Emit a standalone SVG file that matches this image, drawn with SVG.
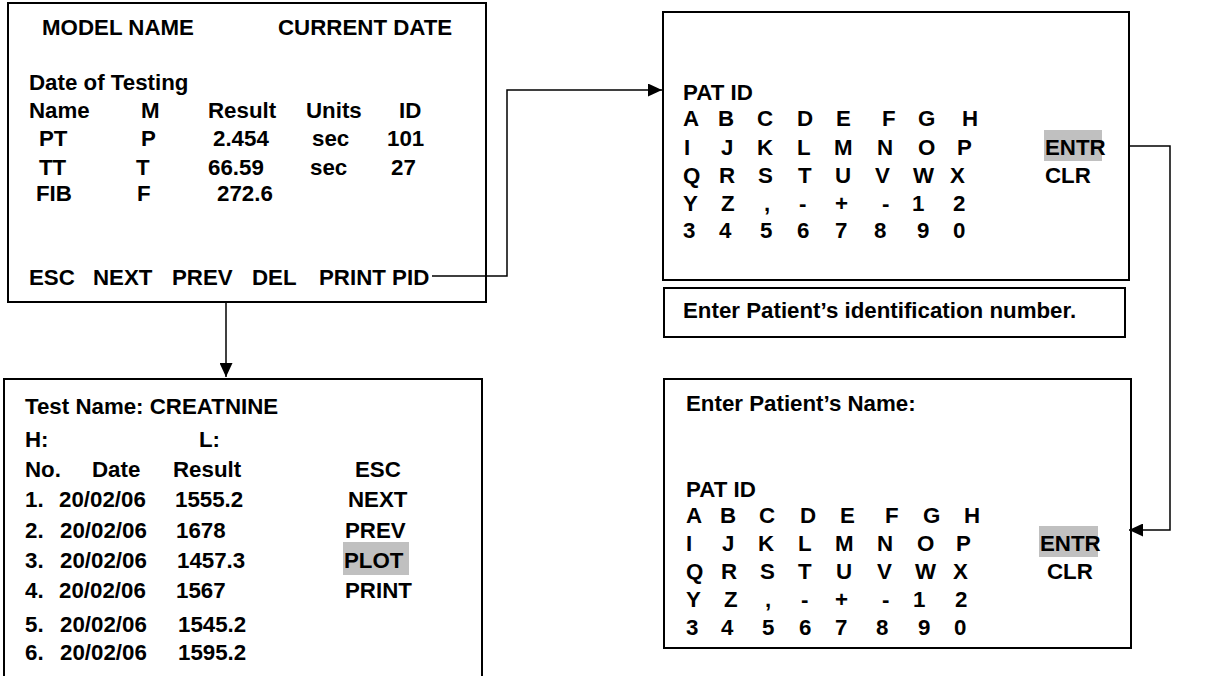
<svg xmlns="http://www.w3.org/2000/svg" width="1225" height="676" viewBox="0 0 1225 676">
<style>
text{font-family:"Liberation Sans",Arial,sans-serif;font-weight:bold;font-size:22.3px;fill:#000}
.box{fill:#fff;stroke:#000;stroke-width:2}
.hl{fill:#c0c0c0}
.conn{fill:none;stroke:#000;stroke-width:1.5}
</style>
<defs>
<marker id="arr" markerWidth="14" markerHeight="13" refX="14" refY="6.5" orient="auto" markerUnits="userSpaceOnUse">
<path d="M0,0 L14,6.5 L0,13 Z" fill="#000"/>
</marker>
</defs>
<rect width="1225" height="676" fill="#fff"/>

<g id="results-screen">
<rect class="box" x="8" y="3" width="478" height="299"/>
<text x="42" y="35">MODEL NAME</text>
<text x="278" y="35">CURRENT DATE</text>
<text x="29" y="90">Date of Testing</text>
<text y="118"><tspan x="29">Name</tspan><tspan x="141">M</tspan><tspan x="208">Result</tspan><tspan x="306">Units</tspan><tspan x="399">ID</tspan></text>
<text y="146"><tspan x="39">PT</tspan><tspan x="141">P</tspan><tspan x="213">2.454</tspan><tspan x="312">sec</tspan><tspan x="387">101</tspan></text>
<text y="175"><tspan x="39">TT</tspan><tspan x="136">T</tspan><tspan x="208">66.59</tspan><tspan x="310">sec</tspan><tspan x="391">27</tspan></text>
<text y="201"><tspan x="36">FIB</tspan><tspan x="137">F</tspan><tspan x="217">272.6</tspan></text>
<text y="285"><tspan x="29">ESC</tspan><tspan x="93">NEXT</tspan><tspan x="172">PREV</tspan><tspan x="252">DEL</tspan><tspan x="319">PRINT PID</tspan></text>
</g>

<g id="pat-id-screen">
<rect class="box" x="663" y="12" width="466" height="268"/>
<rect class="hl" x="1044" y="130" width="58" height="31"/>
<text x="683" y="100">PAT ID</text>
<text y="126"><tspan x="683">A</tspan><tspan x="718">B</tspan><tspan x="757">C</tspan><tspan x="797">D</tspan><tspan x="836">E</tspan><tspan x="882">F</tspan><tspan x="918">G</tspan><tspan x="962">H</tspan></text>
<text y="155"><tspan x="684">I</tspan><tspan x="721">J</tspan><tspan x="757">K</tspan><tspan x="797">L</tspan><tspan x="834">M</tspan><tspan x="877">N</tspan><tspan x="918">O</tspan><tspan x="957">P</tspan><tspan x="1045">ENTR</tspan></text>
<text y="183"><tspan x="683">Q</tspan><tspan x="719">R</tspan><tspan x="758">S</tspan><tspan x="798">T</tspan><tspan x="835">U</tspan><tspan x="875">V</tspan><tspan x="913">W</tspan><tspan x="950">X</tspan><tspan x="1045">CLR</tspan></text>
<text y="211"><tspan x="683">Y</tspan><tspan x="721">Z</tspan><tspan x="764">,</tspan><tspan x="799">-</tspan><tspan x="835">+</tspan><tspan x="882">-</tspan><tspan x="912">1</tspan><tspan x="953">2</tspan></text>
<text y="238"><tspan x="683">3</tspan><tspan x="719">4</tspan><tspan x="760">5</tspan><tspan x="797">6</tspan><tspan x="835">7</tspan><tspan x="874">8</tspan><tspan x="917">9</tspan><tspan x="953">0</tspan></text>
</g>

<g id="pat-id-caption">
<rect class="box" x="664" y="288" width="461" height="49"/>
<text x="683" y="318">Enter Patient’s identification number.</text>
</g>

<g id="test-history-screen">
<rect class="box" x="4" y="379" width="478" height="320"/>
<rect class="hl" x="343" y="542" width="66" height="33"/>
<text x="25" y="414">Test Name: CREATNINE</text>
<text y="447"><tspan x="25">H:</tspan><tspan x="199">L:</tspan></text>
<text y="477"><tspan x="25">No.</tspan><tspan x="92">Date</tspan><tspan x="173">Result</tspan><tspan x="355">ESC</tspan></text>
<text y="507"><tspan x="25">1.</tspan><tspan x="59">20/02/06</tspan><tspan x="175">1555.2</tspan><tspan x="348">NEXT</tspan></text>
<text y="538"><tspan x="25">2.</tspan><tspan x="60">20/02/06</tspan><tspan x="176">1678</tspan><tspan x="345">PREV</tspan></text>
<text y="568"><tspan x="25">3.</tspan><tspan x="60">20/02/06</tspan><tspan x="177">1457.3</tspan><tspan x="344">PLOT</tspan></text>
<text y="598"><tspan x="25">4.</tspan><tspan x="59">20/02/06</tspan><tspan x="176">1567</tspan><tspan x="345">PRINT</tspan></text>
<text y="632"><tspan x="25">5.</tspan><tspan x="60">20/02/06</tspan><tspan x="178">1545.2</tspan></text>
<text y="660"><tspan x="25">6.</tspan><tspan x="60">20/02/06</tspan><tspan x="178">1595.2</tspan></text>
</g>

<g id="patient-name-screen">
<rect class="box" x="664" y="379" width="467" height="269"/>
<rect class="hl" x="1039" y="526" width="59" height="31"/>
<text x="686" y="411">Enter Patient’s Name:</text>
<text x="686" y="497">PAT ID</text>
<text y="523"><tspan x="686">A</tspan><tspan x="720">B</tspan><tspan x="759">C</tspan><tspan x="800">D</tspan><tspan x="840">E</tspan><tspan x="885">F</tspan><tspan x="923">G</tspan><tspan x="964">H</tspan></text>
<text y="551"><tspan x="686">I</tspan><tspan x="722">J</tspan><tspan x="758">K</tspan><tspan x="798">L</tspan><tspan x="835">M</tspan><tspan x="877">N</tspan><tspan x="917">O</tspan><tspan x="956">P</tspan><tspan x="1040">ENTR</tspan></text>
<text y="579"><tspan x="686">Q</tspan><tspan x="721">R</tspan><tspan x="760">S</tspan><tspan x="798">T</tspan><tspan x="836">U</tspan><tspan x="877">V</tspan><tspan x="915">W</tspan><tspan x="953">X</tspan><tspan x="1047">CLR</tspan></text>
<text y="607"><tspan x="686">Y</tspan><tspan x="724">Z</tspan><tspan x="765">,</tspan><tspan x="801">-</tspan><tspan x="835">+</tspan><tspan x="882">-</tspan><tspan x="913">1</tspan><tspan x="955">2</tspan></text>
<text y="635"><tspan x="686">3</tspan><tspan x="721">4</tspan><tspan x="762">5</tspan><tspan x="799">6</tspan><tspan x="835">7</tspan><tspan x="876">8</tspan><tspan x="918">9</tspan><tspan x="954">0</tspan></text>
</g>

<g id="connectors">
<path class="conn" d="M432,276 H507 V90 H662" marker-end="url(#arr)"/>
<path class="conn" d="M226,303 V377" marker-end="url(#arr)"/>
<path class="conn" d="M1130,146 H1170 V530 H1129" marker-end="url(#arr)"/>
</g>
</svg>
